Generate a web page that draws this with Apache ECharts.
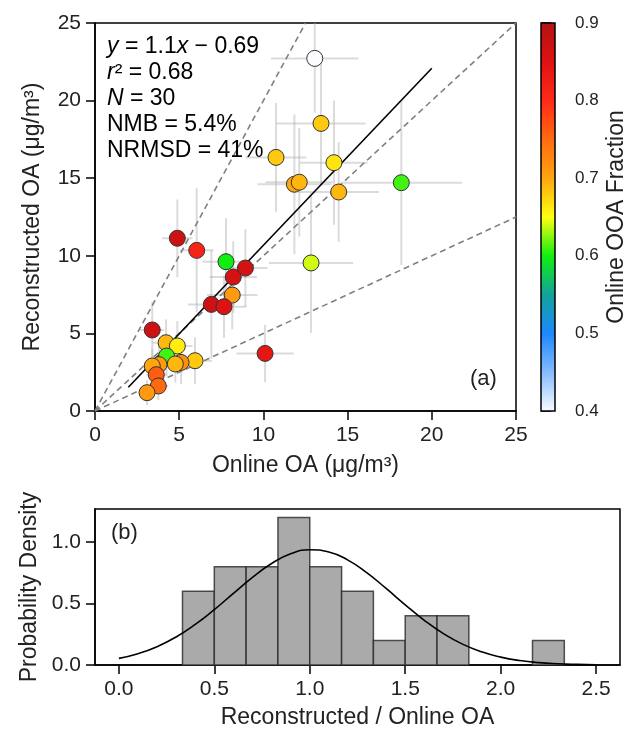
<!DOCTYPE html>
<html>
<head>
<meta charset="utf-8">
<script src="https://cdn.jsdelivr.net/npm/echarts@6/dist/echarts.min.js"></script>
<style>html,body{margin:0;padding:0;background:#fff}#c{width:629px;height:734px}</style>
</head>
<body>
<div id="c"></div>
<script>
// ---- data ----
const onlineOA = [13.05, 13.42, 10.75, 14.19, 11.84, 12.13, 14.47, 18.19, 4.89, 6.04, 7.78, 8.93, 8.21, 8.15, 6.91, 7.66, 12.83, 3.40, 10.10, 4.22, 4.89, 4.25, 5.94, 5.11, 4.77, 3.80, 3.40, 3.64, 3.76, 3.09];
const reconOA  = [22.72, 18.53, 16.34, 16.00, 14.61, 14.74, 14.11, 14.71, 11.13, 10.35, 9.62, 9.21, 8.63, 7.47, 6.87, 6.72, 9.54, 5.22, 3.71, 4.40, 4.19, 3.54, 3.24, 3.13, 3.03, 2.99, 2.90, 2.34, 1.61, 1.18];
const ooaFrac  = [0.40, 0.68, 0.68, 0.665, 0.70, 0.69, 0.69, 0.61, 0.87, 0.81, 0.60, 0.86, 0.86, 0.71, 0.87, 0.85, 0.64, 0.87, 0.84, 0.69, 0.66, 0.61, 0.68, 0.72, 0.69, 0.71, 0.70, 0.76, 0.75, 0.71];
const onlineErr = [2.6, 2.65, 1.8, 2.0, 2.2, 2.0, 2.4, 3.6, 0.9, 1.0, 1.4, 1.3, 1.4, 1.5, 1.4, 1.3, 2.5, 0.7, 1.7, 0.8, 0.9, 0.8, 1.0, 0.9, 0.9, 0.7, 0.6, 0.6, 0.6, 0.5];
const reconErr  = [3.5, 4.0, 3.5, 4.0, 4.5, 3.5, 3.2, 5.3, 2.5, 4.0, 2.8, 2.5, 2.3, 2.2, 3.5, 2.0, 4.5, 1.8, 1.85, 1.5, 1.6, 1.3, 1.5, 1.4, 1.2, 1.2, 1.1, 1.0, 0.9, 0.8];
const fitLine = [[1.98, 1.53], [20, 22.08]];
const refLines = [[[0, 0], [25, 25]], [[0, 0], [12.5, 25]], [[0, 0], [25, 12.5]]];
const statsText = ['y = 1.1x − 0.69', 'r² = 0.68', 'N = 30', 'NMB = 5.4%', 'NRMSD = 41%'];
const cbarTicks = [0.4, 0.5, 0.6, 0.7, 0.8, 0.9];
const cmapColors = ['#fafcff', '#86bcff', '#1e88ff', '#12a29a', '#10f010', '#ffff10', '#ffa510', '#ff6a10', '#ff2a18', '#dd1212', '#b31212'];

const binEdges = [0.3333, 0.5, 0.6667, 0.8333, 1.0, 1.1667, 1.3333, 1.5, 1.6667, 1.8333, 2.0, 2.1667, 2.3333];
const binDensity = [0.6, 0.8, 0.8, 1.2, 0.8, 0.6, 0.2, 0.4, 0.4, 0, 0, 0.2];
const curveX = [0.0, 0.1, 0.2, 0.3, 0.4, 0.5, 0.6, 0.7, 0.8, 0.9, 1.0, 1.1, 1.2, 1.3, 1.4, 1.5, 1.6, 1.7, 1.8, 1.9, 2.0, 2.1, 2.2, 2.3, 2.4, 2.5];
const curveY = [0.054, 0.092, 0.149, 0.228, 0.330, 0.451, 0.583, 0.713, 0.826, 0.905, 0.938, 0.920, 0.854, 0.750, 0.623, 0.490, 0.364, 0.256, 0.170, 0.107, 0.064, 0.036, 0.019, 0.010, 0.005, 0.002];
const histTicksX = [0, 0.5, 1.0, 1.5, 2.0, 2.5];
const histTicksY = [0, 0.5, 1.0];

// ---- chart ----
const FONT = "'Liberation Sans', Arial, sans-serif";
const chart = echarts.init(document.getElementById('c'), null, {renderer: 'canvas'});

const scatterData = onlineOA.map((x, i) => [x, reconOA[i], ooaFrac[i]]);
const errData = onlineOA.map((x, i) => [x, reconOA[i], onlineErr[i], reconErr[i]]);
const histData = binDensity.map((h, i) => [binEdges[i], binEdges[i + 1], h]).filter(d => d[2] > 0);
const curveData = curveX.map((x, i) => [x, curveY[i]]);

const tickStyle = {show: true, inside: false, length: 9, lineStyle: {color: '#000', width: 1.5}};
const lineAx = {show: true, onZero: false, lineStyle: {color: '#000', width: 1.5}};
const lbl = {color: '#222', fontSize: 21, fontFamily: FONT, margin: 14};
const nameStyle = {color: '#222', fontSize: 23, fontFamily: FONT};

const gradStops = cmapColors.map((c, i) => ({offset: i / (cmapColors.length - 1), color: c}));

const statsRich = statsText.map(s => s
  .replace(/^y /, '{i|y} ')
  .replace('1.1x', '1.1{i|x}')
  .replace(/^r²/, '{i|r}²')
  .replace(/^N /, '{i|N} ')).join('\n');

const option = {
  animation: false,
  backgroundColor: '#fff',
  grid: [
    {left: 95, top: 23, width: 421, height: 388, show: true, borderColor: '#000', borderWidth: 1.5, backgroundColor: 'transparent'},
    {left: 541, top: 23, width: 20, height: 388, show: false},
    {left: 95, top: 509, width: 525, height: 156, show: true, borderColor: '#000', borderWidth: 1.5, backgroundColor: 'transparent'}
  ],
  xAxis: [
    {gridIndex: 0, type: 'value', min: 0, max: 25, interval: 5, axisLine: lineAx, axisTick: tickStyle, splitLine: {show: false},
     axisLabel: lbl, name: 'Online OA (μg/m³)', nameLocation: 'middle', nameGap: 43, nameTextStyle: nameStyle},
    {gridIndex: 1, type: 'value', min: 0, max: 1, show: false},
    {gridIndex: 2, type: 'value', min: -0.125, max: 2.625, axisLine: lineAx, splitLine: {show: false},
     axisTick: Object.assign({}, tickStyle, {customValues: histTicksX}),
     axisLabel: Object.assign({}, lbl, {customValues: histTicksX, formatter: v => v.toFixed(1)}),
     name: 'Reconstructed / Online OA', nameLocation: 'middle', nameGap: 41, nameTextStyle: nameStyle}
  ],
  yAxis: [
    {gridIndex: 0, type: 'value', min: 0, max: 25, interval: 5, axisLine: lineAx, axisTick: tickStyle, splitLine: {show: false},
     axisLabel: lbl, name: 'Reconstructed OA (μg/m³)', nameLocation: 'middle', nameGap: 51, nameTextStyle: nameStyle},
    {gridIndex: 1, type: 'value', min: 0.4, max: 0.9, interval: 0.1, position: 'right',
     axisLine: {show: false}, splitLine: {show: false},
     axisTick: {show: true, inside: false, length: 10, lineStyle: {color: '#000', width: 1.5}},
     axisLabel: {color: '#222', fontSize: 17, fontFamily: FONT, margin: 20, formatter: v => v.toFixed(1)},
     name: 'Online OOA Fraction', nameLocation: 'middle', nameRotate: 90, nameGap: 50,
     nameTextStyle: {color: '#222', fontSize: 23, fontFamily: FONT}},
    {gridIndex: 2, type: 'value', min: 0, max: 1.27, axisLine: lineAx, splitLine: {show: false},
     axisTick: Object.assign({}, tickStyle, {customValues: histTicksY}),
     axisLabel: Object.assign({}, lbl, {customValues: histTicksY, formatter: v => v.toFixed(1)}),
     name: 'Probability Density', nameLocation: 'middle', nameGap: 53, nameTextStyle: nameStyle}
  ],
  visualMap: {
    type: 'continuous', show: false, min: 0.4, max: 0.9, dimension: 2, seriesIndex: 2,
    inRange: {color: cmapColors}
  },
  series: [
    { // error bars
      type: 'custom', xAxisIndex: 0, yAxisIndex: 0, clip: true, z: 1,
      data: errData,
      renderItem: (params, api) => {
        const x = api.value(0), y = api.value(1), ex = api.value(2), ey = api.value(3);
        const a = api.coord([x - ex, y]), b = api.coord([x + ex, y]);
        const c = api.coord([x, y - ey]), d = api.coord([x, y + ey]);
        const st = {stroke: 'rgba(175,175,175,0.45)', lineWidth: 2};
        return {type: 'group', children: [
          {type: 'line', shape: {x1: a[0], y1: a[1], x2: b[0], y2: b[1]}, style: st},
          {type: 'line', shape: {x1: c[0], y1: c[1], x2: d[0], y2: d[1]}, style: st}
        ]};
      }
    },
    { // fit line
      type: 'line', xAxisIndex: 0, yAxisIndex: 0, data: fitLine, symbol: 'none', z: 3,
      lineStyle: {color: '#000', width: 1.6}
    },
    { // scatter
      type: 'scatter', xAxisIndex: 0, yAxisIndex: 0, data: scatterData, symbolSize: 16, z: 4,
      itemStyle: {borderColor: '#333', borderWidth: 1, opacity: 1}
    },
    ...refLines.map(seg => ({
      type: 'line', xAxisIndex: 0, yAxisIndex: 0, data: seg, symbol: 'none', z: 2,
      lineStyle: {color: '#808080', width: 1.6, type: [6, 4]}
    })),
    { // colorbar
      type: 'custom', xAxisIndex: 1, yAxisIndex: 1, data: [[0, 0.4, 1, 0.9]],
      renderItem: (params, api) => {
        const p0 = api.coord([api.value(0), api.value(3)]);
        const p1 = api.coord([api.value(2), api.value(1)]);
        return {type: 'rect', shape: {x: p0[0], y: p0[1], width: p1[0] - p0[0], height: p1[1] - p0[1]},
          style: {fill: new echarts.graphic.LinearGradient(0, 1, 0, 0, gradStops), stroke: '#000', lineWidth: 1.5}};
      }
    },
    { // histogram
      type: 'custom', xAxisIndex: 2, yAxisIndex: 2, data: histData, z: 2,
      renderItem: (params, api) => {
        const p0 = api.coord([api.value(0), api.value(2)]);
        const p1 = api.coord([api.value(1), 0]);
        return {type: 'rect', shape: {x: p0[0], y: p0[1], width: p1[0] - p0[0], height: p1[1] - p0[1]},
          style: {fill: '#aaaaaa', stroke: 'rgba(40,40,40,0.8)', lineWidth: 1.5}};
      }
    },
    { // normal fit
      type: 'line', xAxisIndex: 2, yAxisIndex: 2, data: curveData, symbol: 'none', smooth: true, z: 3,
      lineStyle: {color: '#000', width: 1.6}
    }
  ],
  graphic: [
    {type: 'text', left: 107, top: 34, z: 10, style: {
      text: statsRich, fontSize: 23, fontFamily: FONT, fill: '#000', lineHeight: 26,
      rich: {i: {fontStyle: 'italic', fontSize: 23, fontFamily: FONT, fill: '#000', lineHeight: 26}}
    }},
    {type: 'text', left: 470, top: 368, z: 10, style: {text: '(a)', fontSize: 22, fontFamily: FONT, fill: '#222'}},
    {type: 'text', left: 111, top: 522, z: 10, style: {text: '(b)', fontSize: 22, fontFamily: FONT, fill: '#222'}}
  ]
};
chart.setOption(option);
</script>
</body>
</html>
